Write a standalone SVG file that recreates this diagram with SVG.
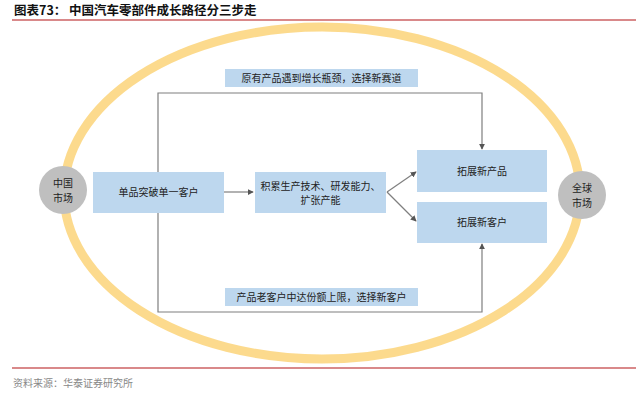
<svg xmlns="http://www.w3.org/2000/svg" width="640" height="402" viewBox="0 0 640 402">
<defs>
<style>
.t{font-family:"Noto Sans CJK SC","Noto Sans",sans-serif;fill:#222;font-size:10px;text-anchor:middle}
.box{fill:#bdd7ee}
.circ{fill:#bfbfbf}
.con{fill:none;stroke:#7f7f7f;stroke-width:1.2}
.rule{stroke:#d9898a;stroke-width:2}
</style>
<marker id="ah" viewBox="0 0 8 8" refX="7" refY="4" markerWidth="6" markerHeight="6" orient="auto" markerUnits="userSpaceOnUse">
<path d="M0,0 L8,4 L0,8 z" fill="#555"/>
</marker>
</defs>
<rect width="640" height="402" fill="#fff"/>
<text x="14" y="15" style="font-family:'Noto Sans CJK SC',sans-serif;font-size:12.5px;font-weight:bold;fill:#111">图表73：  中国汽车零部件成长路径分三步走</text>
<line class="rule" x1="12" y1="20" x2="636" y2="20"/>
<ellipse cx="322" cy="193" rx="258" ry="166" fill="none" stroke="#fcd681" stroke-width="9" opacity="0.9"/>
<line class="rule" x1="12" y1="368" x2="636" y2="368"/>
<text x="13" y="387" style="font-family:'Noto Sans CJK SC',sans-serif;font-size:10px;fill:#888">资料来源：华泰证券研究所</text>

<g id="connectors">
<line class="con" x1="224" y1="192" x2="253" y2="192" marker-end="url(#ah)"/>
<line class="con" x1="387" y1="192" x2="416" y2="172" marker-end="url(#ah)"/>
<line class="con" x1="387" y1="192" x2="416" y2="221" marker-end="url(#ah)"/>
<polyline class="con" points="158,172 158,93 482,93 482,149" marker-end="url(#ah)"/>
<polyline class="con" points="158,213 158,312 482,312 482,244" marker-end="url(#ah)"/>
</g>

<g id="label-top">
<rect class="box" x="225" y="69" width="193" height="18"/>
<text class="t" x="321.5" y="81.5">原有产品遇到增长瓶颈，选择新赛道</text>
</g>
<g id="label-bottom">
<rect class="box" x="225" y="288" width="193" height="18"/>
<text class="t" x="321.5" y="300.5">产品老客户中达份额上限，选择新客户</text>
</g>

<g id="china-market">
<circle class="circ" cx="63" cy="190" r="24"/>
<text class="t" x="63" y="187">中国</text>
<text class="t" x="63" y="202">市场</text>
</g>
<g id="global-market">
<circle class="circ" cx="582" cy="195" r="24"/>
<text class="t" x="582" y="192">全球</text>
<text class="t" x="582" y="207">市场</text>
</g>
<g id="single-product">
<rect class="box" x="93" y="172" width="131" height="41"/>
<text class="t" x="158.5" y="196">单品突破单一客户</text>
</g>
<g id="accumulate">
<rect class="box" x="255" y="172" width="131" height="41"/>
<text class="t" x="320.5" y="190">积累生产技术、研发能力、</text>
<text class="t" x="320.5" y="204">扩张产能</text>
</g>
<g id="new-product">
<rect class="box" x="417" y="150" width="130" height="42"/>
<text class="t" x="482" y="175">拓展新产品</text>
</g>
<g id="new-customer">
<rect class="box" x="417" y="202" width="130" height="41"/>
<text class="t" x="482" y="226">拓展新客户</text>
</g>
</svg>
